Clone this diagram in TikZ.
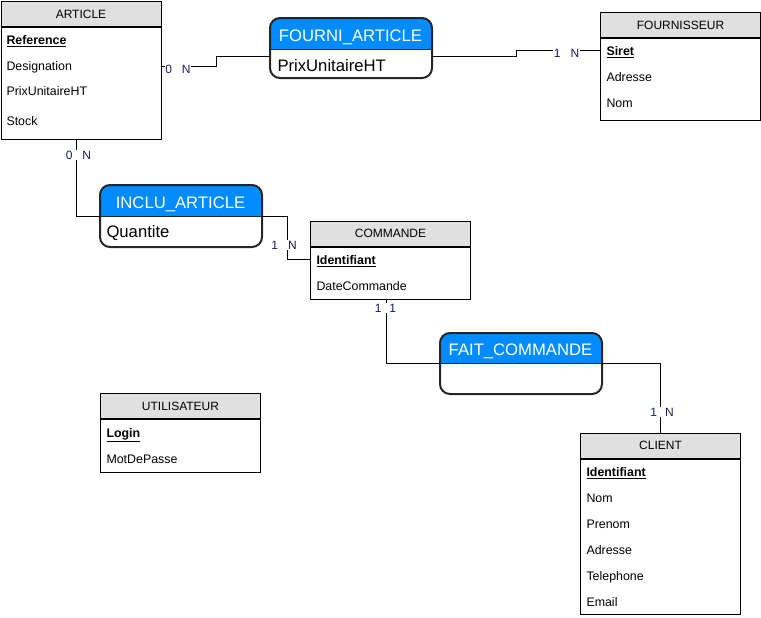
\documentclass[tikz,border=0pt]{standalone}
\usepackage{fontspec}
\setmainfont{Liberation Sans}
\usetikzlibrary{positioning}
\definecolor{headgray}{HTML}{E0E0E0}
\definecolor{relblue}{HTML}{008CFF}
\definecolor{cardblue}{HTML}{1A1A5E}

\begin{document}
\begin{tikzpicture}[x=0.75pt,y=-0.75pt,line width=0.75pt]
{\fontsize{9}{11}\selectfont
  \tikzstyle{head}=[draw,fill=headgray,anchor=north west,minimum width=120pt,minimum height=18.75pt,inner sep=0pt]
  \tikzstyle{body}=[draw,fill=white,anchor=north west,minimum width=120pt,inner sep=0pt]
  \tikzstyle{attr}=[anchor=base west,inner sep=0pt,font=\fontsize{9.3}{11}\selectfont]
  \tikzstyle{card}=[anchor=base,fill=white,inner sep=0.6pt,text=cardblue]
  \tikzstyle{relbox}=[anchor=north west,minimum width=120.75pt,inner sep=0pt]
  \tikzstyle{reltitle}=[anchor=base,text=white,inner sep=0pt,font=\fontsize{12.5}{14}\selectfont]
  \tikzstyle{relattr}=[anchor=base west,inner sep=0pt,font=\fontsize{12.5}{14}\selectfont]
  \tikzstyle{relline}=[line width=1.5pt,draw=black!85,rounded corners=7.5pt]

  \useasboundingbox (0,0) rectangle (761,618);

  % entites
  \node [head] (art) at (0.5,1) {ARTICLE};
  \node [body,minimum height=84pt] (artb) at (art.south west) {};
  \node [attr] (artRef) at (6,44) {\underline{\textbf{Reference}}};
  \node [attr] (artDes) at (6,70) {Designation};
  \node [attr] (artPrix) at (6,95.5) {PrixUnitaireHT};
  \node [attr] (artStock) at (6,125.5) {Stock};

  \node [head] (four) at (600,12) {FOURNISSEUR};
  \node [body,minimum height=61.5pt] (fourb) at (four.south west) {};
  \node [attr] (fSiret) at (606,55) {\underline{\textbf{Siret}}};
  \node [attr] (fAdr) at (606,81) {Adresse};
  \node [attr] (fNom) at (606,107) {Nom};

  \node [head] (com) at (310,220.5) {COMMANDE};
  \node [body,minimum height=39pt] (comb) at (com.south west) {};
  \node [attr] (cId) at (316,264) {\underline{\textbf{Identifiant}}};
  \node [attr] (cDate) at (316,290) {DateCommande};

  \node [head] (util) at (100,393) {UTILISATEUR};
  \node [body,minimum height=39.75pt] (utilb) at (util.south west) {};
  \node [attr] (uLogin) at (106,437) {\underline{\textbf{Login}}};
  \node [attr] (uMdp) at (106,463) {MotDePasse};

  \node [head] (cli) at (580,432.5) {CLIENT};
  \node [body,minimum height=116.25pt] (clib) at (cli.south west) {};
  \node [attr] (clId) at (586,476) {\underline{\textbf{Identifiant}}};
  \node [attr] (clNom) at (586,502) {Nom};
  \node [attr] (clPre) at (586,528) {Prenom};
  \node [attr] (clAdr) at (586,554) {Adresse};
  \node [attr] (clTel) at (586,580) {Telephone};
  \node [attr] (clMail) at (586,606) {Email};

  % associations
  \node [relbox,minimum height=44.25pt] (fa) at (270,18) {};
  \coordinate (faDiv) at (270,49);
  \fill [white,rounded corners=7.5pt] (fa.south west) rectangle (fa.north east);
  \begin{scope}
    \clip [rounded corners=7.5pt] (fa.south west) rectangle (fa.north east);
    \fill [relblue] (fa.north west) rectangle (faDiv -| fa.east);
  \end{scope}
  \draw [black!85] (faDiv) -- (faDiv -| fa.east);
  \draw [relline] (fa.south west) rectangle (fa.north east);
  \node [reltitle] (faT) at (350.5,41) {FOURNI\_ARTICLE};
  \node [relattr] (faA) at (277,71) {PrixUnitaireHT};

  \node [relbox,minimum height=45.75pt] (ia) at (100,185) {};
  \coordinate (iaDiv) at (100,216);
  \fill [white,rounded corners=7.5pt] (ia.south west) rectangle (ia.north east);
  \begin{scope}
    \clip [rounded corners=7.5pt] (ia.south west) rectangle (ia.north east);
    \fill [relblue] (ia.north west) rectangle (iaDiv -| ia.east);
  \end{scope}
  \draw [black!85] (iaDiv) -- (iaDiv -| ia.east);
  \draw [relline] (ia.south west) rectangle (ia.north east);
  \node [reltitle] (iaT) at (180.5,208) {INCLU\_ARTICLE};
  \node [relattr] (iaA) at (106,237.5) {Quantite};

  \node [relbox,minimum height=45pt] (fc) at (440,333) {};
  \coordinate (fcDiv) at (440,363);
  \fill [white,rounded corners=7.5pt] (fc.south west) rectangle (fc.north east);
  \begin{scope}
    \clip [rounded corners=7.5pt] (fc.south west) rectangle (fc.north east);
    \fill [relblue] (fc.north west) rectangle (fcDiv -| fc.east);
  \end{scope}
  \draw [black!85] (fcDiv) -- (fcDiv -| fc.east);
  \draw [relline] (fc.south west) rectangle (fc.north east);
  \node [reltitle] (fcT) at (520.5,355.5) {FAIT\_COMMANDE};

  % liens
  \coordinate (faL) at ([yshift=-5.25pt]faDiv);
  \coordinate (faR) at (faL -| fa.east);
  \draw ([yshift=3pt]artb.east |- artDes.base) -- ++(55,0) |- (faL);
  \draw (faR) -- ++(84,0) |- ([yshift=3.75pt]fourb.west |- fSiret.base);
  \draw ([xshift=-3.4pt]artb.south) |- (iaDiv);
  \draw (iaDiv -| ia.east) -- ++(25,0) |- ([yshift=3.75pt]comb.west |- cId.base);
  \draw ([xshift=-3pt]comb.south) |- (fcDiv);
  \draw (fcDiv -| fc.east) -| (cli.north);

  % cardinalites
  \node [card] (c1) at (178,73) {0\hspace{7.5pt}N};
  \node [card] (c2) at (566.5,57) {1\hspace{7.5pt}N};
  \node [card] (c3) at (78.5,159) {0\hspace{7.5pt}N};
  \node [card] (c4) at (284,249) {1\hspace{7.5pt}N};
  \node [card] (c5) at (385.5,312.5) {1\hspace{6pt}1};
  \node [card] (c6) at (662,416.5) {1\hspace{6pt}N};
}
\end{tikzpicture}
\end{document}
